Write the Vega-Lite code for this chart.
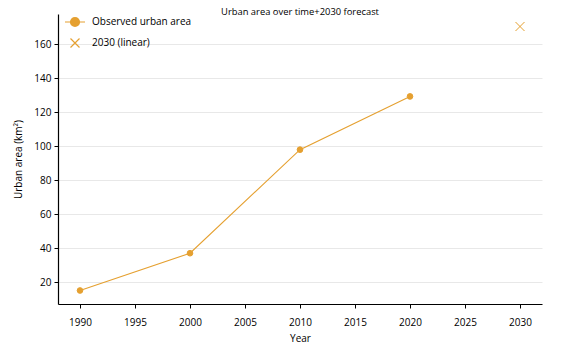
{
  "$schema": "https://vega.github.io/schema/vega-lite/v6.json",
  "width": 484,
  "height": 290,
  "autosize": {"type": "none"},
  "padding": {"left": 58, "top": 14, "right": 21, "bottom": 47},
  "title": {"text": "Urban area over time+2030 forecast", "fontSize": 9.4, "fontWeight": "normal", "font": "Open Sans", "color": "#000000", "offset": -6},
  "config": {
    "view": {"stroke": null},
    "font": "Open Sans",
    "axis": {"labelFont": "Open Sans", "titleFont": "Open Sans", "labelFontSize": 10, "titleFontSize": 10, "titleFontWeight": "normal", "labelColor": "#000000", "titleColor": "#000000", "domainColor": "#000000", "tickColor": "#000000", "tickSize": 4, "domainWidth": 1.2}
  },
  "data": {"values": [
    {"year": 1990, "area": 15.2, "series": "Observed urban area"},
    {"year": 2000, "area": 37.1, "series": "Observed urban area"},
    {"year": 2010, "area": 98.0, "series": "Observed urban area"},
    {"year": 2020, "area": 129.3, "series": "Observed urban area"},
    {"year": 2030, "area": 170.4, "series": "2030 (linear)"}
  ]},
  "layer": [
    {
      "transform": [{"filter": "datum.series === 'Observed urban area'"}],
      "mark": {"type": "line", "color": "#E5A030", "strokeWidth": 1.1},
      "encoding": {
        "x": {"field": "year", "type": "quantitative", "scale": {"domain": [1988, 2032], "nice": false, "zero": false},
              "axis": {"title": "Year", "values": [1990, 1995, 2000, 2005, 2010, 2015, 2020, 2025, 2030], "format": "d", "grid": false, "labelPadding": 9, "titlePadding": 6}},
        "y": {"field": "area", "type": "quantitative", "scale": {"domain": [7.25, 177.75], "nice": false, "zero": false},
              "axis": {"title": "Urban area (km²)", "values": [20, 40, 60, 80, 100, 120, 140, 160], "grid": true, "gridColor": "#e8e8e8", "gridWidth": 1, "labelPadding": 3, "titlePadding": 10}}
      }
    },
    {
      "transform": [{"filter": "datum.series === 'Observed urban area'"}],
      "mark": {"type": "point", "shape": "circle", "filled": true, "color": "#E5A030", "stroke": "#E5A030", "strokeWidth": 1, "opacity": 1, "size": 32},
      "encoding": {
        "x": {"field": "year", "type": "quantitative"},
        "y": {"field": "area", "type": "quantitative"}
      }
    },
    {
      "transform": [{"filter": "datum.series === '2030 (linear)'"}],
      "mark": {"type": "point", "shape": "M-1,-1L1,1M-1,1L1,-1", "filled": false, "stroke": "#E5A030", "strokeWidth": 1, "opacity": 1, "size": 81},
      "encoding": {
        "x": {"field": "year", "type": "quantitative"},
        "y": {"field": "area", "type": "quantitative"}
      }
    },
    {
      "transform": [{"filter": "false"}],
      "mark": {"type": "point", "filled": false, "color": "#E5A030", "strokeWidth": 1.2, "opacity": 1},
      "encoding": {
        "x": {"field": "year", "type": "quantitative"},
        "y": {"field": "area", "type": "quantitative"},
        "shape": {"field": "series", "type": "nominal",
          "scale": {"domain": ["Observed urban area", "2030 (linear)"], "range": [
            "M-1,0L-0.45,0M0.45,0L1,0M-0.45,0A0.45,0.45 0 1,0 0.45,0A0.45,0.45 0 1,0 -0.45,0M-0.35,0A0.35,0.35 0 1,0 0.35,0A0.35,0.35 0 1,0 -0.35,0M-0.25,0A0.25,0.25 0 1,0 0.25,0A0.25,0.25 0 1,0 -0.25,0M-0.15,0A0.15,0.15 0 1,0 0.15,0A0.15,0.15 0 1,0 -0.15,0M-0.06,0A0.06,0.06 0 1,0 0.06,0A0.06,0.06 0 1,0 -0.06,0",
            "M-0.45,-0.45L0.45,0.45M-0.45,0.45L0.45,-0.45"]},
          "legend": {"title": null, "orient": "none", "legendX": 6, "legendY": -3, "padding": 0, "labelFont": "Open Sans", "labelFontSize": 10, "labelColor": "#000000", "rowPadding": 3, "symbolSize": 400, "labelOffset": 6, "symbolStrokeColor": "#E5A030", "symbolStrokeWidth": 1.2, "symbolOpacity": 1}
        }
      }
    }
  ]
}
